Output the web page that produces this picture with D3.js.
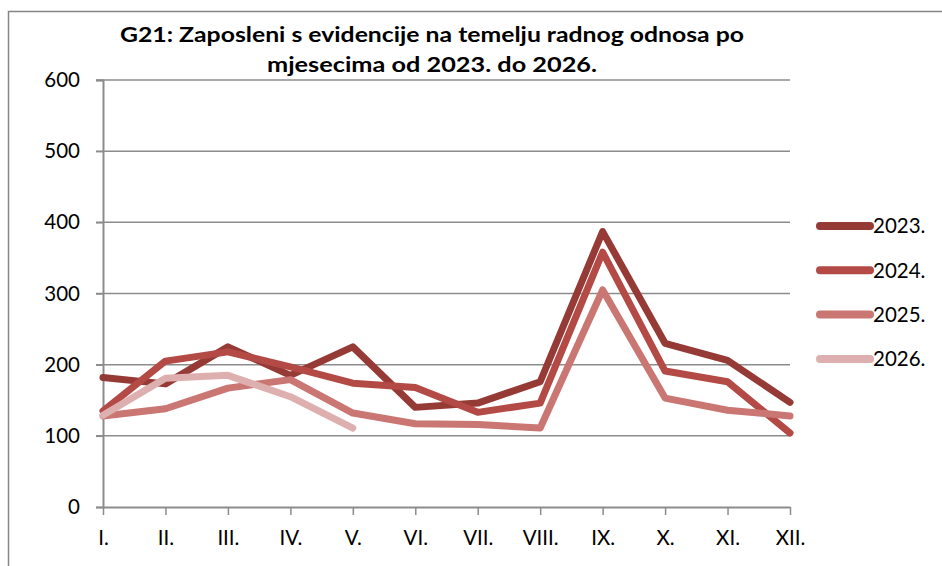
<!DOCTYPE html>
<html>
<head>
  <meta charset="utf-8">
  <title>G21</title>
  <style>
    body { margin: 0; background: #fff; }
    text { font-family: Lato, "Liberation Sans", sans-serif; }
  </style>
</head>
<body>
  <svg id="svg"></svg>
  <script src="https://d3js.org/d3.v7.min.js"></script>
  <script>
    let months = ["I.", "II.", "III.", "IV.", "V.", "VI.", "VII.", "VIII.", "IX.", "X.", "XI.", "XII."];
    let years = ["2023.", "2024.", "2025.", "2026."];
    let v2023 = [182, 173, 225, 185, 225, 140, 146, 176, 387, 230, 206, 147];
    let v2024 = [135, 205, 218, 197, 174, 168, 133, 146, 358, 191, 176, 104];
    let v2025 = [128, 138, 167, 179, 132, 117, 116, 111, 305, 153, 136, 128];
    let v2026 = [129, 181, 185, 155, 111];
    let yTicks = [0, 100, 200, 300, 400, 500, 600];
    let colors = ["#963a36", "#b34a45", "#ca7673", "#ddb0af"];
    let series = [v2023, v2024, v2025, v2026];

    let width = 942, height = 566;
    let margin = { top: 80, right: 152, bottom: 59, left: 103 };

    let svg = d3.select("#svg").attr("width", width).attr("height", height);

    // outer frame
    svg.append("rect")
      .attr("x", 8.5).attr("y", 11.5)
      .attr("width", 960).attr("height", 600)
      .attr("fill", "none").attr("stroke", "#868686").attr("stroke-width", 1.5);

    let xScale = d3.scalePoint().domain(months).range([margin.left, width - margin.right]);
    let yScale = d3.scaleLinear().domain([0, 600]).range([height - margin.bottom, margin.top]);

    // gridlines
    svg.append("g")
      .selectAll("line")
      .data(yTicks.slice(1))
      .join("line")
      .attr("x1", margin.left - 7)
      .attr("x2", width - margin.right)
      .attr("y1", d => yScale(d))
      .attr("y2", d => yScale(d))
      .attr("stroke", "#8c8c8c")
      .attr("stroke-width", 1.5);

    // y axis
    let yAxis = svg.append("g")
      .attr("transform", `translate(${margin.left},0)`)
      .call(d3.axisLeft(yScale).tickValues(yTicks).tickSize(7).tickPadding(16));
    yAxis.select(".domain").attr("stroke", "#8c8c8c").attr("stroke-width", 2);
    yAxis.selectAll(".tick line").attr("stroke", "#8c8c8c").attr("stroke-width", 1.5);
    yAxis.selectAll(".tick text").attr("font-size", 20.5).attr("fill", "#000").attr("font-family", "Lato, sans-serif");

    // x axis
    let xAxis = svg.append("g")
      .attr("transform", `translate(0,${yScale(0)})`)
      .call(d3.axisBottom(xScale).tickSize(8).tickPadding(15).tickSizeOuter(0));
    xAxis.select(".domain").attr("stroke", "#8c8c8c").attr("stroke-width", 2);
    xAxis.selectAll(".tick line").attr("stroke", "#8c8c8c").attr("stroke-width", 1.5);
    xAxis.selectAll(".tick text").attr("font-size", 20.5).attr("fill", "#000").attr("font-family", "Lato, sans-serif");

    // lines
    let line = d3.line()
      .x((d, i) => xScale(months[i]))
      .y(d => yScale(d));

    svg.append("g")
      .selectAll("path")
      .data(series)
      .join("path")
      .attr("d", d => line(d))
      .attr("fill", "none")
      .attr("stroke", (d, i) => colors[i])
      .attr("stroke-width", 7)
      .attr("stroke-linejoin", "round")
      .attr("stroke-linecap", "round");

    // legend
    let legend = svg.append("g")
      .selectAll("g")
      .data(years)
      .join("g")
      .attr("transform", (d, i) => `translate(820,${226 + i * 44.3})`);
    legend.append("line")
      .attr("x1", 0).attr("x2", 50)
      .attr("stroke", (d, i) => colors[i])
      .attr("stroke-width", 8)
      .attr("stroke-linecap", "round");
    legend.append("text")
      .attr("x", 53).attr("dy", "0.36em")
      .attr("font-size", 20.5)
      .text(d => d);

    // title
    let title = svg.append("text")
      .attr("text-anchor", "middle")
      .attr("font-weight", "bold")
      .attr("font-size", 20);
    title.append("tspan").attr("x", 432).attr("y", 42)
      .attr("textLength", 624).attr("lengthAdjust", "spacingAndGlyphs")
      .text("G21: Zaposleni s evidencije na temelju radnog odnosa po");
    title.append("tspan").attr("x", 432).attr("y", 72)
      .attr("textLength", 330).attr("lengthAdjust", "spacingAndGlyphs")
      .text("mjesecima od 2023. do 2026.");
  </script>
</body>
</html>
